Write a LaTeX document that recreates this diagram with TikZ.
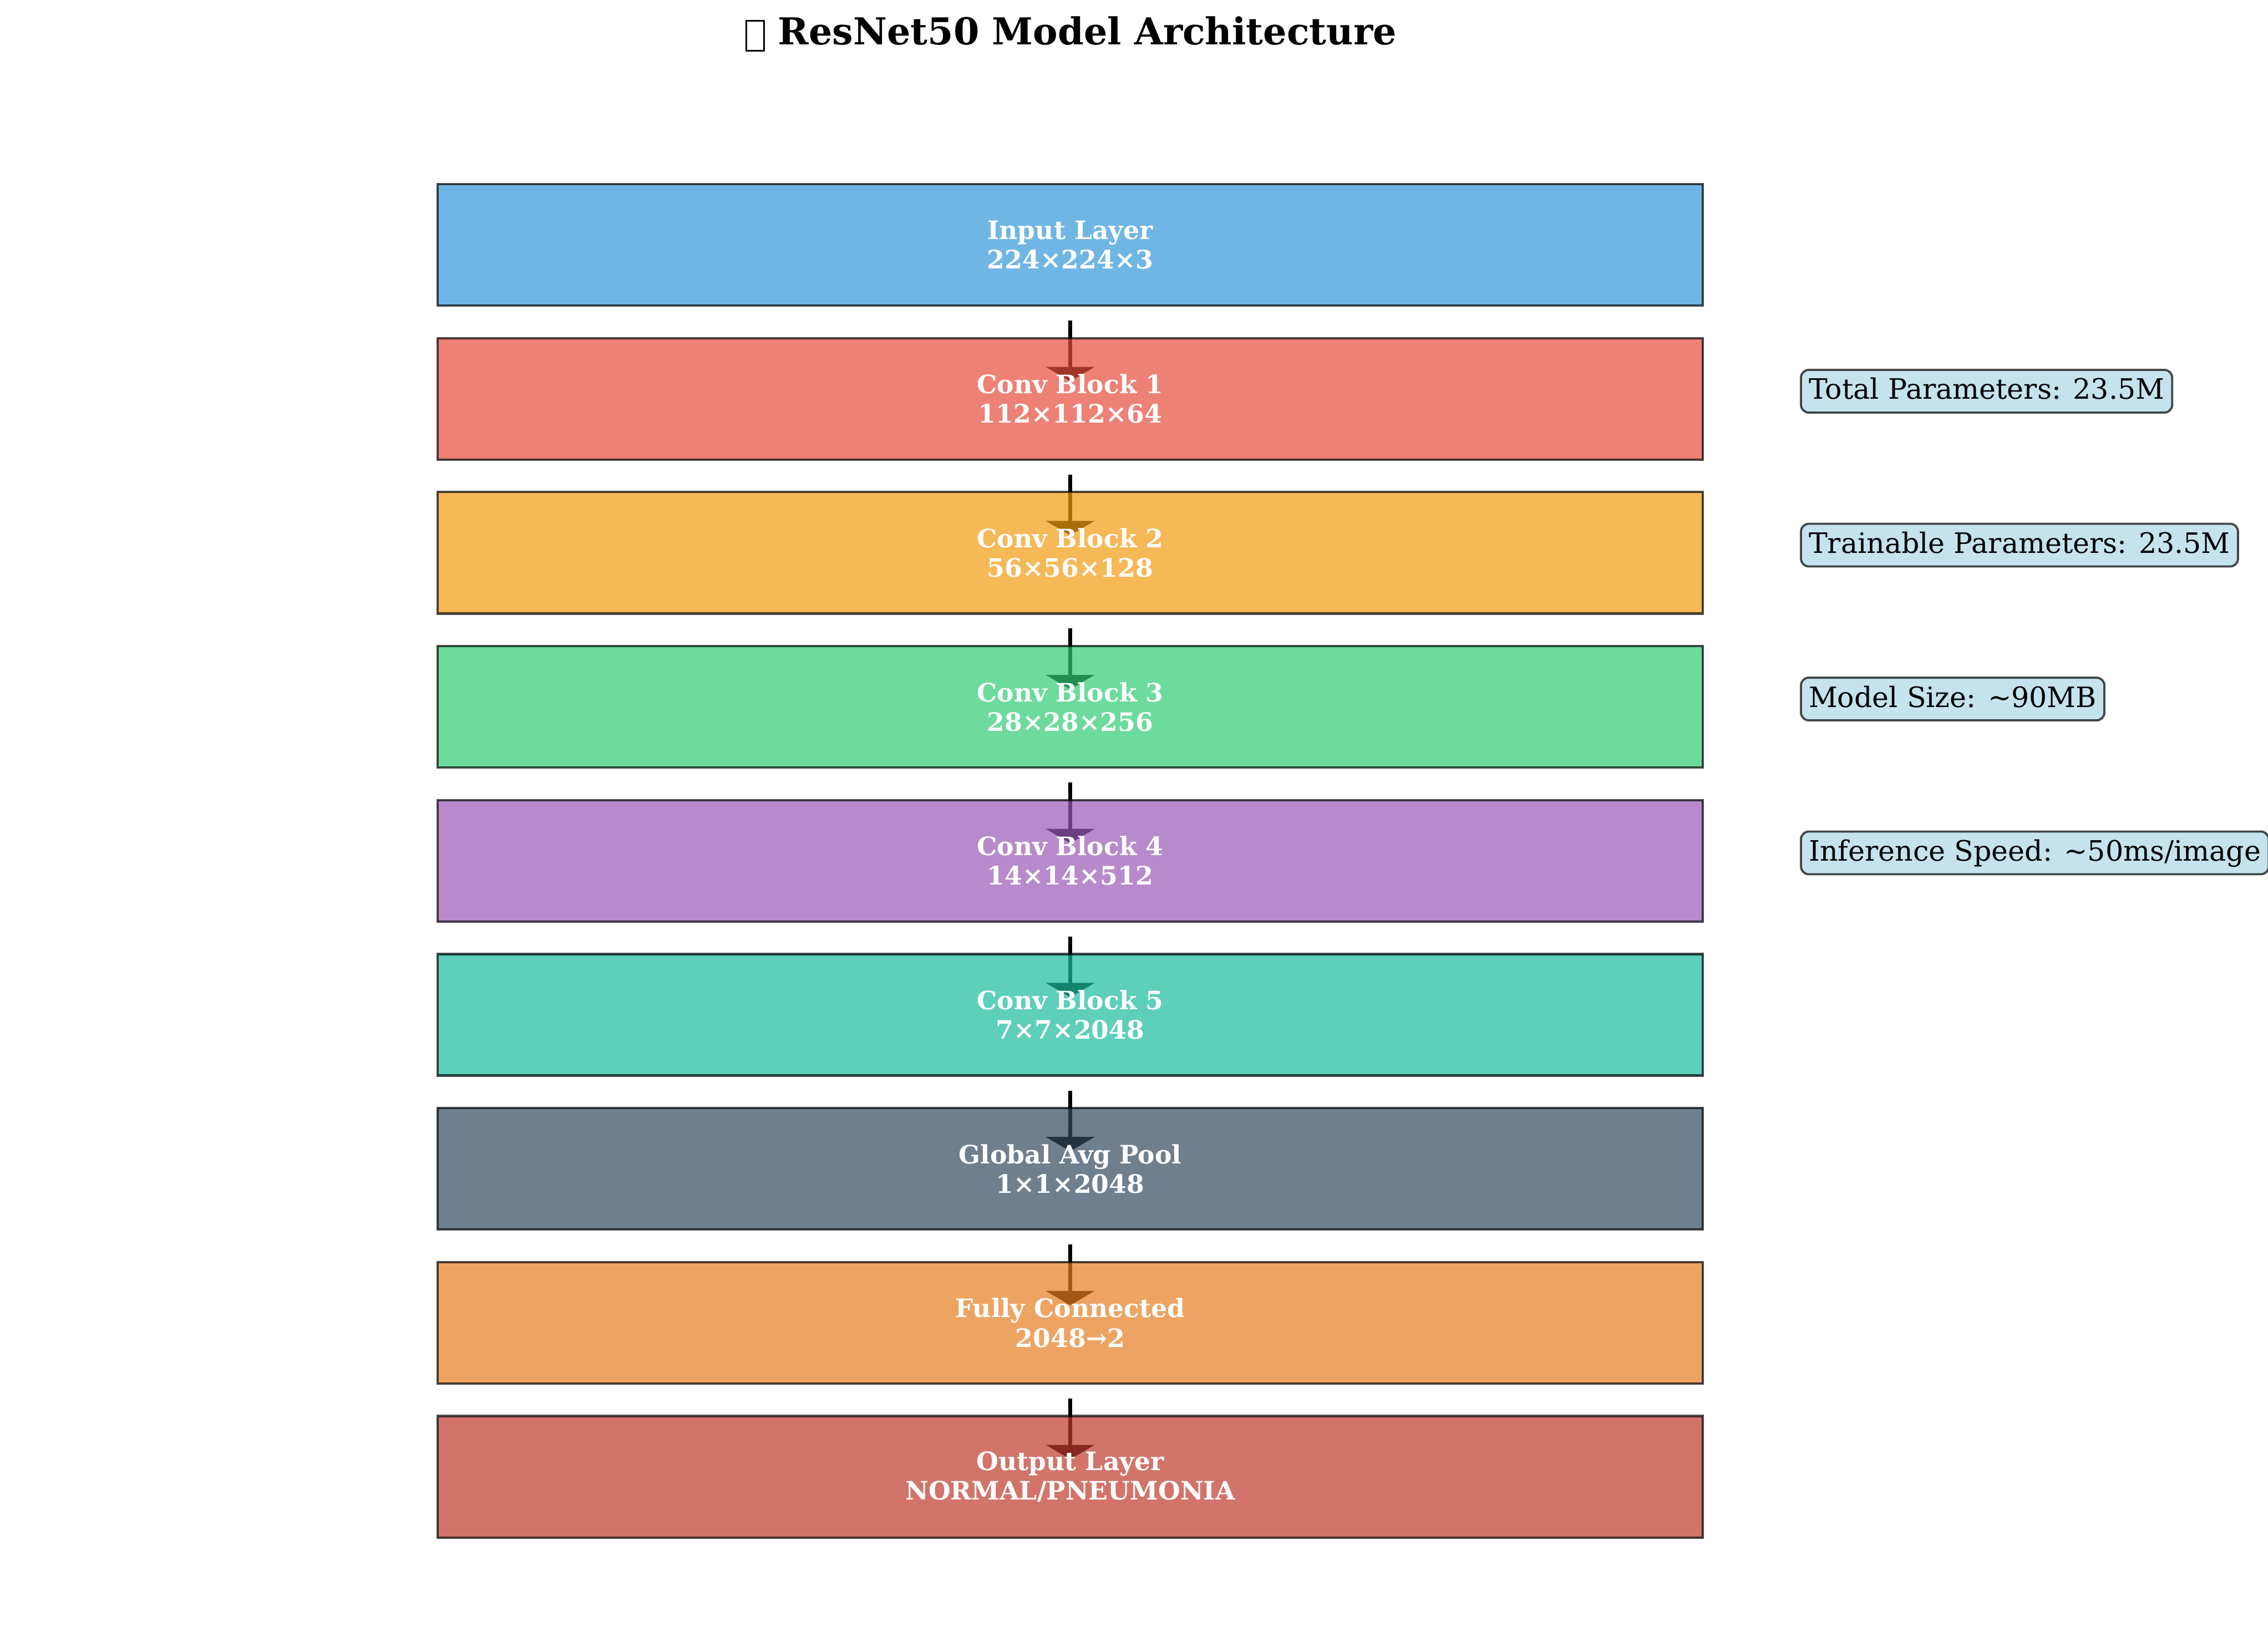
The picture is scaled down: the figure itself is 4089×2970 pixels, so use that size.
\documentclass[tikz,border=0pt]{standalone}
\usepackage{fontspec}
\setmainfont{DejaVu Serif}
\usetikzlibrary{arrows.meta,backgrounds,calc}
\definecolor{cInput}{HTML}{3498DB}
\definecolor{cCa}{HTML}{E74C3C}
\definecolor{cCb}{HTML}{F39C12}
\definecolor{cCc}{HTML}{2ECC71}
\definecolor{cCd}{HTML}{9B59B6}
\definecolor{cCe}{HTML}{1ABC9C}
\definecolor{cGap}{HTML}{34495E}
\definecolor{cFc}{HTML}{E67E22}
\definecolor{cOut}{HTML}{C0392B}
\definecolor{infofill}{HTML}{ADD8E6}
\tikzset{
  layerbox/.style={draw=black, draw opacity=0.7, fill opacity=0.7, text opacity=1,
    line width=1.2pt, minimum width=22.79cm, minimum height=2.19cm,
    inner sep=0pt, outer sep=0pt, text=white, align=center,
    font=\fontsize{13.0}{15.1}\selectfont\bfseries},
  infobox/.style={draw=black, draw opacity=0.7, fill=infofill, fill opacity=0.7,
    text opacity=1, line width=1.1pt, rounded corners=0.14cm,
    inner xsep=0.14cm, inner ysep=0pt, text height=0.53cm, text depth=0.24cm,
    outer sep=0pt, anchor=base west, font=\fontsize{14.4}{17}\selectfont},
  flow/.style={line width=2.2pt, -{Triangle[length=0.26cm, width=0.87cm]}},
  titletext/.style={anchor=base, font=\fontsize{19.0}{22}\selectfont\bfseries}
}
\begin{document}
\begin{tikzpicture}[x=0.01cm, y=-0.01cm]
\useasboundingbox (0,0) rectangle (4089,2970);

\node[titletext] (title) at (1931,81)
  {\raisebox{-0.09cm}{\fboxsep=0pt\fboxrule=0.9pt\fbox{\rule{0pt}{0.51cm}\hspace{0.29cm}}} ResNet50 Model Architecture};

\node[layerbox, fill=cInput] (inp) at (1929.5,441.5) {Input Layer\\224×224×3};
\node[layerbox, fill=cCa] (c1) at (1929.5,719.2) {Conv Block 1\\112×112×64};
\node[layerbox, fill=cCb] (c2) at (1929.5,996.9) {Conv Block 2\\56×56×128};
\node[layerbox, fill=cCc] (c3) at (1929.5,1274.6) {Conv Block 3\\28×28×256};
\node[layerbox, fill=cCd] (c4) at (1929.5,1552.3) {Conv Block 4\\14×14×512};
\node[layerbox, fill=cCe] (c5) at (1929.5,1830) {Conv Block 5\\7×7×2048};
\node[layerbox, fill=cGap] (gap) at (1929.5,2107.7) {Global Avg Pool\\1×1×2048};
\node[layerbox, fill=cFc] (fc) at (1929.5,2385.4) {Fully Connected\\2048→2};
\node[layerbox, fill=cOut] (out) at (1929.5,2663.1) {Output Layer\\NORMAL/PNEUMONIA};

\node[infobox] (total) at (3247,720) {Total Parameters: 23.5M};
\node[infobox] (train) at (3247,997.5) {Trainable Parameters: 23.5M};
\node[infobox] (size) at (3247,1275) {Model Size: \textasciitilde90MB};
\node[infobox] (speed) at (3247,1552.5) {Inference Speed: \textasciitilde50ms/image};

\begin{pgfonlayer}{background}
\fill[white] (0,0) rectangle (4089,2970);
\foreach \a/\b in {inp/c1, c1/c2, c2/c3, c3/c4, c4/c5, c5/gap, gap/fc, fc/out}
  \draw[flow] ($(\a.south)+(0,27)$) -- ($(\b.north)+(0,78)$);
\end{pgfonlayer}
\end{tikzpicture}
\end{document}
